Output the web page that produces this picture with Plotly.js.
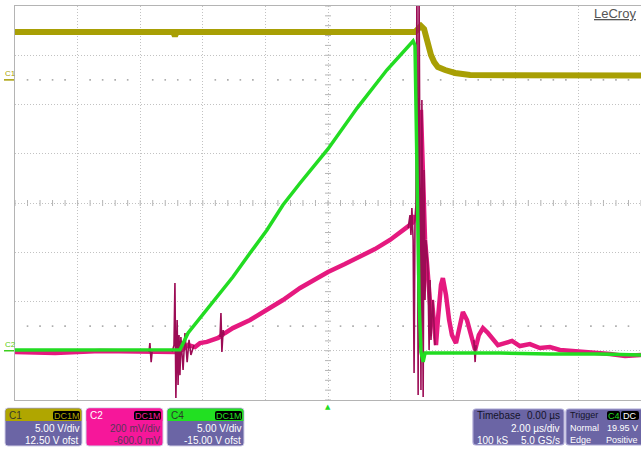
<!DOCTYPE html>
<html>
<head>
<meta charset="utf-8">
<script src="https://cdn.plot.ly/plotly-3.0.1.min.js"></script>
<style>
  html, body { margin: 0; padding: 0; background: #ffffff; overflow: hidden; }
  #scope { width: 641px; height: 449px; }
</style>
</head>
<body>
<div id="scope"></div>
<script>
// ---- Channel settings ----
const chanNames     = ['C1', 'C2', 'C4'];
const chanVdiv      = [5, 0.2, 5];          // volts per division
const chanOfst      = [12.5, -0.6, -15];    // offset in volts
const chanScaleText = ['5.00 V/div', '200 mV/div', '5.00 V/div'];
const chanOfstText  = ['12.50 V ofst', '-600.0 mV', '-15.00 V ofst'];
const chanCoupling  = ['DC1M', 'DC1M', 'DC1M'];

// ---- Timebase / trigger readouts ----
const tbLeft   = ['Timebase', '', '100 kS'];
const tbRight  = ['0.00 µs', '2.00 µs/div', '5.0 GS/s'];
const trgLeft  = ['Trigger', 'Normal', 'Edge'];
const trgRight = ['', '19.95 V', 'Positive'];
const trgBadges = ['C4', 'DC'];

// ---- Waveforms (time in µs, amplitude in volts) ----
// C1
const c1Time = [-10, -4.95, -4.89, -4.83, 2.78, 2.88, 2.97, 3.07, 3.13, 3.19, 3.29, 3.39, 3.51, 3.74, 4.06, 4.54, 7.5, 10];
const c1Volt = [4.86, 4.86, 4.45, 4.86, 4.86, 5.27, 5.47, 5.16, 4.45, 3.54, 2.53, 1.81, 1.31, 1.00, 0.70, 0.49, 0.45, 0.45];

// C4
const c4Time = [-10, -4.73, -4.47, -4.09, -3.55, -3.04, -2.49, -1.95, -1.44, -0.89, 0, 0.93, 1.88, 2.46, 2.72, 2.78, 2.84, 2.91, 2.97, 3.04, 3.10, 3.90, 5.50, 7.09, 8.69, 10];
const c4Volt = [0.08, 0.10, 1.80, 3.33, 5.46, 7.49, 9.92, 12.26, 14.80, 17.03, 20.49, 24.64, 28.50, 30.53, 31.45, 31.0, 20.38, 5.15, -0.13, -1.14, -0.23, -0.23, -0.23, -0.33, -0.33, -0.43];

// C2 (slow component)
const c2Time = [-10, -8.72, -7.28, -6.01, -4.89, -4.66, -4.47, -4.25, -4.09, -3.87, -3.67, -3.51, -3.29, -3.04, -2.49, -1.95, -1.44, -0.89, -0.35, 0, 0.54, 1.02, 1.50, 1.98, 2.30, 2.46, 2.62, 2.72, 2.78,
                null,
                2.97, 3.04, 3.10, 3.16, 3.23, 3.29, 3.32, 3.39, 3.45, 3.51, 3.61, 3.67, 3.77, 3.87, 3.96, 4.09, 4.22, 4.31, 4.44, 4.57, 4.70, 4.82, 4.95, 5.11, 5.27, 5.43, 5.65, 5.88, 6.13, 6.45, 6.77, 7.09, 7.41, 7.89, 8.37, 9.01, 9.49, 10];
const c2Volt = [-0.005, -0.009, -0.001, -0.005, -0.005, 0.003, 0.023, 0.015, 0.031, 0.036, 0.044, 0.052, 0.072, 0.092, 0.125, 0.165, 0.206, 0.255, 0.295, 0.320, 0.352, 0.381, 0.413, 0.450, 0.478, 0.494, 0.511, 0.523, 0.551,
                null,
                0.978, 0.693, 0.450, 0.360, 0.247, 0.145, 0.206, 0.105, 0.023, 0.125, 0.267, 0.295, 0.226, 0.125, 0.064, 0.031, 0.105, 0.157, 0.125, 0.064, 0.003, 0.064, 0.092, 0.072, 0.044, 0.023, 0.031, 0.040, 0.019, 0.027, 0.011, 0.015, 0.003, -0.001, -0.009, -0.013, -0.021, -0.017];

// C2 (fast switching transients)
const c2FastTime = [-5.72, -5.69, -5.65, -5.62, null,
                    -4.98, -4.92, -4.89, -4.86, -4.82, -4.79, -4.76, -4.73, -4.70, -4.63, -4.57, -4.50, -4.44, -4.38, -4.28, null,
                    -3.45, -3.42, -3.39, -3.35, -3.32, null,
                    2.56, 2.62, 2.65, 2.68, 2.72, 2.75, 2.78, 2.81, 2.84, 2.88, 2.91, 2.94, 2.97, 3.00, 3.04, 3.07, 3.10, 3.13, 3.19, 3.23, 3.26, 3.29, 3.35, 3.42, null,
                    4.66, 4.70, 4.73];
const c2FastVolt = [-0.005, 0.031, -0.046, -0.005, null,
                    -0.005, 0.023, 0.275, -0.192, 0.125, -0.139, 0.064, -0.099, 0.056, -0.078, 0.072, -0.046, 0.044, -0.017, 0.023, null,
                    0.056, 0.153, -0.005, 0.084, 0.064, null,
                    0.498, 0.551, 0.470, 0.580, 0.450, -0.090, 0.539, 0.592, 1.45, -0.180, 1.45, 0.612, -0.159, 1.018, -0.188, 0.734, 0.206, 0.450, 0.348, 0.003, 0.287, 0.044, 0.206, 0.023, null,
                    0.044, -0.046, 0.023];

// ---- Colours ----
const colC1 = '#a89f04', colC2 = '#e5197f', colC2Fast = '#9c0c55', colC4 = '#22dc22';
const hdrC1 = '#b0a600', boxC2 = '#f6179a', hdrC4 = '#22e022';
const panelBody = '#6b65a5', panelEdge = '#a9a5d3';
const gridCol = '#c2c2c2', frameCol = '#b4b4b4';

// ---- Geometry ----
const W = 641, H = 449;
const M = { l: 15, r: 0, t: 6, b: 49 };
const PW = W - M.l - M.r, PH = H - M.t - M.b;
const DIVS_X = 10, DIVS_Y = 8;
const tPerDiv = 2; // µs
const X = px => (px - M.l) / PW;          // pixel -> paper x
const Y = py => (M.t + PH - py) / PH;     // pixel -> paper y

function chanRange(i) {
  return [-DIVS_Y / 2 * chanVdiv[i] - chanOfst[i], DIVS_Y / 2 * chanVdiv[i] - chanOfst[i]];
}

// rounded rectangle path in paper coordinates, radii per corner [tl,tr,br,bl]
function rrPath(x0, y0, x1, y1, r) {
  const p = (x, y) => X(x).toFixed(5) + ',' + Y(y).toFixed(5);
  const [tl, tr, br, bl] = r;
  return 'M' + p(x0 + tl, y0) + ' L' + p(x1 - tr, y0) + ' Q' + p(x1, y0) + ' ' + p(x1, y0 + tr) +
         ' L' + p(x1, y1 - br) + ' Q' + p(x1, y1) + ' ' + p(x1 - br, y1) +
         ' L' + p(x0 + bl, y1) + ' Q' + p(x0, y1) + ' ' + p(x0, y1 - bl) +
         ' L' + p(x0, y0 + tl) + ' Q' + p(x0, y0) + ' ' + p(x0 + tl, y0) + ' Z';
}

const FONT = 'Liberation Sans, Arial, sans-serif';
const shapes = [];
const annotations = [];

// centre-line graticule ticks (every 1/5 division)
for (let k = -DIVS_X / 2 * 5; k <= DIVS_X / 2 * 5; k++) {
  const t = k * tPerDiv / 5;
  shapes.push({ type: 'line', layer: 'below', xref: 'x', x0: t, x1: t,
    yref: 'paper', ysizemode: 'pixel', yanchor: 0.5, y0: -3, y1: 3,
    line: { color: frameCol, width: 1 } });
}
for (let k = -DIVS_Y / 2 * 5; k <= DIVS_Y / 2 * 5; k++) {
  const p = 0.5 + k / (DIVS_Y * 5);
  shapes.push({ type: 'line', layer: 'below', xref: 'x', xsizemode: 'pixel', xanchor: 0, x0: -3, x1: 3,
    yref: 'paper', y0: p, y1: p, line: { color: frameCol, width: 1 } });
}
// dotted marker rows at ±2.5 divisions
[2.5, -2.5].forEach(d => {
  for (let k = -DIVS_X / 2 * 5; k <= DIVS_X / 2 * 5; k++) {
    if (k % 5 === 0) continue;
    shapes.push({ type: 'rect', layer: 'below', xref: 'x', xsizemode: 'pixel', xanchor: k * tPerDiv / 5, x0: -0.8, x1: 0.8,
      yref: 'paper', ysizemode: 'pixel', yanchor: 0.5 + d / DIVS_Y, y0: -0.8, y1: 0.8,
      fillcolor: '#a8a8a8', line: { width: 0 } });
  }
});

// channel ground markers on the left edge
shapes.push({ type: 'line', xref: 'paper', x0: X(4), x1: X(14), yref: 'y', y0: 0, y1: 0, line: { color: colC1, width: 1.5 } });
annotations.push({ xref: 'paper', yref: 'y', x: X(3), y: 0, yshift: 6, xanchor: 'left', yanchor: 'middle',
  text: 'C1', showarrow: false, font: { family: FONT, size: 8, color: colC1 } });
shapes.push({ type: 'line', xref: 'paper', x0: X(4), x1: X(14), yref: 'y3', y0: 0, y1: 0, line: { color: '#3ccf1e', width: 1.5 } });
annotations.push({ xref: 'paper', yref: 'y3', x: X(3), y: 0, yshift: 6, xanchor: 'left', yanchor: 'middle',
  text: 'C2', showarrow: false, font: { family: FONT, size: 8, color: '#5ccc10' } });

// trigger position marker
annotations.push({ xref: 'x', yref: 'paper', x: 0, y: 0, yshift: -1, xanchor: 'center', yanchor: 'top',
  text: '▲', showarrow: false, font: { family: 'DejaVu Sans', size: 7, color: '#22dd22' } });

// brand
annotations.push({ xref: 'paper', yref: 'paper', x: X(638), y: Y(13), xanchor: 'right', yanchor: 'middle',
  text: '<u>LeCroy</u>', showarrow: false, font: { family: FONT, size: 13, color: '#555555' } });

// ---- Channel descriptor boxes ----
const hdrColors = [hdrC1, boxC2, hdrC4];
const bodyColors = [panelBody, boxC2, panelBody];
const nameColors = ['#3a3a2a', '#ffffff', '#2a3a2a'];
const bodyText = ['#ffffff', '#5a3458', '#ffffff'];
const badgeText = [hdrC1, boxC2, hdrC4];
chanNames.forEach((name, i) => {
  const x0 = 5 + i * 81, x1 = x0 + 77, y0 = 408, y1 = 446, yh = 421;
  shapes.push({ type: 'path', xref: 'paper', yref: 'paper', path: rrPath(x0, y0, x1, y1, [3, 3, 3, 3]),
    fillcolor: bodyColors[i], line: { color: '#d0cde6', width: 1 } });
  shapes.push({ type: 'path', xref: 'paper', yref: 'paper', path: rrPath(x0 + 0.5, y0 + 0.5, x1 - 0.5, yh, [3, 3, 0, 0]),
    fillcolor: hdrColors[i], line: { width: 0 } });
  // coupling badge
  shapes.push({ type: 'path', xref: 'paper', yref: 'paper', path: rrPath(x1 - 29, y0 + 3, x1 - 2, y0 + 12, [2, 2, 2, 2]),
    fillcolor: '#000000', line: { width: 0 } });
  annotations.push({ xref: 'paper', yref: 'paper', x: X(x1 - 15.5), y: Y(y0 + 7.5), xanchor: 'center', yanchor: 'middle',
    text: chanCoupling[i], showarrow: false, font: { family: FONT, size: 9, color: badgeText[i] } });
  annotations.push({ xref: 'paper', yref: 'paper', x: X(x0 + 2), y: Y(y0 + 7), xanchor: 'left', yanchor: 'middle',
    text: name, showarrow: false, font: { family: FONT, size: 10, color: nameColors[i] } });
  annotations.push({ xref: 'paper', yref: 'paper', x: X(x1 - 1), y: Y(428), xanchor: 'right', yanchor: 'middle',
    text: chanScaleText[i], showarrow: false, font: { family: FONT, size: 10, color: bodyText[i] } });
  annotations.push({ xref: 'paper', yref: 'paper', x: X(x1 - 1), y: Y(440), xanchor: 'right', yanchor: 'middle',
    text: chanOfstText[i], showarrow: false, font: { family: FONT, size: 10, color: bodyText[i] } });
});

// ---- Timebase and trigger boxes ----
function infoBox(x0, x1, left, right, textRight, fs) {
  const y0 = 409, y1 = 445, rows = [415, 428, 440];
  shapes.push({ type: 'path', xref: 'paper', yref: 'paper', path: rrPath(x0, y0, x1, y1, [3, 3, 3, 3]),
    fillcolor: panelBody, line: { color: panelEdge, width: 1.2 } });
  rows.forEach((ry, r) => {
    const c = r === 0 ? '#14142a' : '#ffffff';
    if (left[r]) annotations.push({ xref: 'paper', yref: 'paper', x: X(x0 + 2), y: Y(ry), xanchor: 'left', yanchor: 'middle',
      text: left[r], showarrow: false, font: { family: FONT, size: fs, color: c } });
    if (right[r]) annotations.push({ xref: 'paper', yref: 'paper', x: X(textRight), y: Y(ry), xanchor: 'right', yanchor: 'middle',
      text: right[r], showarrow: false, font: { family: FONT, size: fs, color: c } });
  });
}
infoBox(473, 564, tbLeft, tbRight, 562, 10);
infoBox(566, 656, trgLeft, trgRight, 640, 9);
// trigger source badges
[[607, 620, colC4], [621, 639, '#ffffff']].forEach((b, i) => {
  shapes.push({ type: 'path', xref: 'paper', yref: 'paper', path: rrPath(b[0], 411, b[1], 420, [2, 2, 2, 2]),
    fillcolor: '#000000', line: { width: 0 } });
  annotations.push({ xref: 'paper', yref: 'paper', x: X((b[0] + b[1]) / 2), y: Y(415.5), xanchor: 'center', yanchor: 'middle',
    text: trgBadges[i], showarrow: false, font: { family: FONT, size: 9, color: b[2] } });
});

// ---- Traces ----
const traces = [
  { x: c1Time, y: c1Volt, yaxis: 'y', type: 'scatter', mode: 'lines', name: 'C1',
    line: { color: colC1, width: 6 }, hoverinfo: 'skip' },
  { x: c4Time, y: c4Volt, yaxis: 'y3', type: 'scatter', mode: 'lines', name: 'C4',
    line: { color: colC4, width: 3.5 }, hoverinfo: 'skip' },
  { x: c2Time, y: c2Volt, yaxis: 'y2', type: 'scatter', mode: 'lines', name: 'C2',
    line: { color: colC2, width: 4.5 }, connectgaps: false, hoverinfo: 'skip' },
  { x: c2FastTime, y: c2FastVolt, yaxis: 'y2', type: 'scatter', mode: 'lines', name: 'C2 transients',
    line: { color: colC2Fast, width: 1.6 }, connectgaps: false, hoverinfo: 'skip' }
];

const gridAxis = {
  showgrid: true, gridcolor: gridCol, griddash: '1px,2px', gridwidth: 1,
  showline: true, mirror: true, linecolor: frameCol, linewidth: 1,
  zeroline: false, showticklabels: false, ticks: ''
};

const layout = {
  width: W, height: H,
  margin: M,
  paper_bgcolor: '#ffffff', plot_bgcolor: '#ffffff',
  showlegend: false,
  xaxis: Object.assign({ range: [-DIVS_X / 2 * tPerDiv, DIVS_X / 2 * tPerDiv], dtick: tPerDiv, tick0: 0 }, gridAxis),
  yaxis: Object.assign({ range: chanRange(0), dtick: chanVdiv[0], tick0: -chanOfst[0] }, gridAxis),
  yaxis2: { overlaying: 'y', range: chanRange(1), visible: false, showgrid: false, zeroline: false },
  yaxis3: { overlaying: 'y', range: chanRange(2), visible: false, showgrid: false, zeroline: false },
  shapes: shapes,
  annotations: annotations
};

Plotly.newPlot('scope', traces, layout, { staticPlot: true, displayModeBar: false });
</script>
</body>
</html>
